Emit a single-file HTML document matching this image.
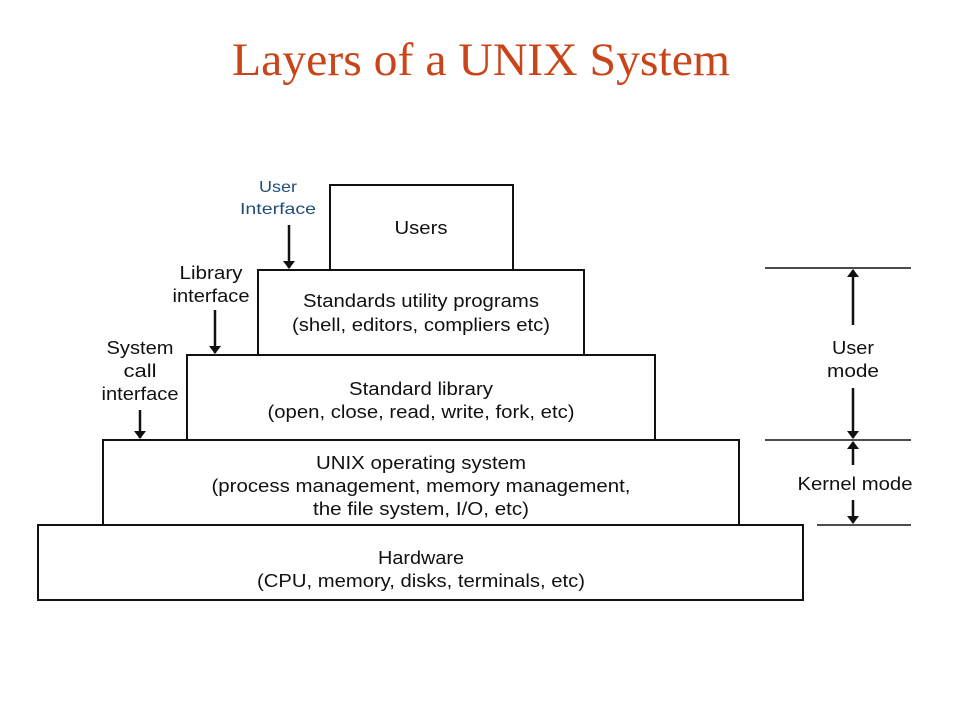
<!DOCTYPE html>
<html><head><style>body{margin:0;background:#fff}svg{display:block}</style></head><body>
<svg width="960" height="720" xmlns="http://www.w3.org/2000/svg">
<defs><marker id="a" markerWidth="8" markerHeight="12" refX="7" refY="6" orient="auto" markerUnits="userSpaceOnUse"><path d="M0,0 L8,6 L0,12 z" fill="#111"/></marker></defs>
<text x="481" y="75" text-anchor="middle" font-family="Liberation Serif, serif" font-size="47" fill="#c94419" textLength="498" lengthAdjust="spacingAndGlyphs">Layers of a UNIX System</text>
<g fill="#fff" stroke="#111" stroke-width="2">
<rect x="330" y="185" width="183" height="85"/>
<rect x="258" y="270" width="326" height="85"/>
<rect x="187" y="355" width="468" height="85"/>
<rect x="103" y="440" width="636" height="85"/>
<rect x="38" y="525" width="765" height="75"/>
</g>
<g font-family="Liberation Sans, sans-serif" font-size="18" fill="#111" text-anchor="middle">
<text x="421" y="234" textLength="53" lengthAdjust="spacingAndGlyphs">Users</text>
<text x="421" y="307" textLength="236" lengthAdjust="spacingAndGlyphs">Standards utility programs</text>
<text x="421" y="331" textLength="258" lengthAdjust="spacingAndGlyphs">(shell, editors, compliers etc)</text>
<text x="421" y="395" textLength="144" lengthAdjust="spacingAndGlyphs">Standard library</text>
<text x="421" y="418" textLength="307" lengthAdjust="spacingAndGlyphs">(open, close, read, write, fork, etc)</text>
<text x="421" y="469" textLength="210" lengthAdjust="spacingAndGlyphs">UNIX operating system</text>
<text x="421" y="492" textLength="419" lengthAdjust="spacingAndGlyphs">(process management, memory management,</text>
<text x="421" y="515" textLength="216" lengthAdjust="spacingAndGlyphs">the file system, I/O, etc)</text>
<text x="421" y="564" textLength="86" lengthAdjust="spacingAndGlyphs">Hardware</text>
<text x="421" y="587" textLength="328" lengthAdjust="spacingAndGlyphs">(CPU, memory, disks, terminals, etc)</text>
<text x="211" y="279" textLength="63" lengthAdjust="spacingAndGlyphs">Library</text>
<text x="211" y="302" textLength="77" lengthAdjust="spacingAndGlyphs">interface</text>
<text x="140" y="354" textLength="67" lengthAdjust="spacingAndGlyphs">System</text>
<text x="140" y="377" textLength="33" lengthAdjust="spacingAndGlyphs">call</text>
<text x="140" y="400" textLength="77" lengthAdjust="spacingAndGlyphs">interface</text>
<text x="853" y="354" textLength="42" lengthAdjust="spacingAndGlyphs">User</text>
<text x="853" y="377" textLength="52" lengthAdjust="spacingAndGlyphs">mode</text>
<text x="855" y="490" textLength="115" lengthAdjust="spacingAndGlyphs">Kernel mode</text>
</g>
<g font-family="Liberation Sans, sans-serif" font-size="16" fill="#1f4e79" text-anchor="middle">
<text x="278" y="192" textLength="38" lengthAdjust="spacingAndGlyphs">User</text>
<text x="278" y="214" textLength="76" lengthAdjust="spacingAndGlyphs">Interface</text>
</g>
<g stroke="#111" stroke-width="2.5" marker-end="url(#a)">
<line x1="289" y1="225" x2="289" y2="268"/>
<line x1="215" y1="310" x2="215" y2="353"/>
<line x1="140" y1="410" x2="140" y2="438"/>
<line x1="853" y1="325" x2="853" y2="270"/>
<line x1="853" y1="388" x2="853" y2="438"/>
<line x1="853" y1="465" x2="853" y2="442"/>
<line x1="853" y1="500" x2="853" y2="523"/>
</g>
<g stroke="#111" stroke-width="1.5">
<line x1="765" y1="268" x2="911" y2="268"/>
<line x1="765" y1="440" x2="911" y2="440"/>
<line x1="817" y1="525" x2="911" y2="525"/>
</g>
</svg>
</body></html>
